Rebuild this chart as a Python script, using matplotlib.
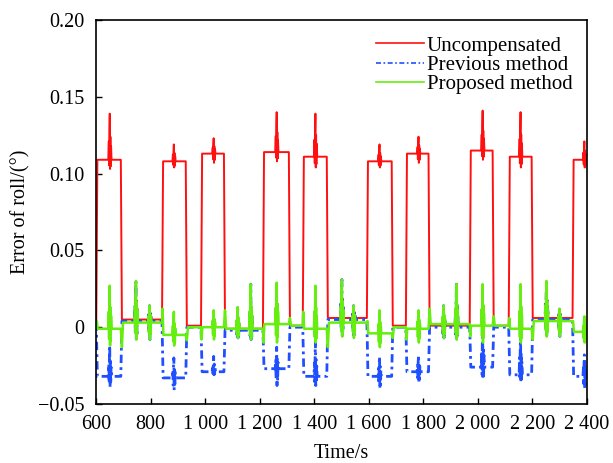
import numpy as np
import matplotlib
matplotlib.use('Agg')
import matplotlib.pyplot as plt

plt.rcParams['font.family'] = ['Liberation Serif', 'DejaVu Serif']
plt.rcParams['mathtext.fontset'] = 'stix'

# ---- data ----
# intervals where the uncompensated error is high
high_start = [601, 842, 985, 1212, 1358, 1593, 1736, 1970, 2113, 2347]
high_end = [695, 933, 1073, 1311, 1450, 1688, 1823, 2058, 2201, 2400]
red_high = [0.109, 0.108, 0.113, 0.114, 0.111, 0.108, 0.113, 0.115, 0.111, 0.109]
blue_high = [-0.032, -0.033, -0.029, -0.027, -0.032, -0.032, -0.029, -0.026, -0.031, -0.032]
green_high = [-0.001, -0.005, 0.000, 0.002, -0.001, -0.004, -0.001, 0.001, -0.001, -0.003]

# spikes inside the high intervals
spike_t = [651, 886, 1032, 1263, 1405, 1640, 1783, 2018, 2157, 2391]
red_spike_max = [0.139, 0.119, 0.123, 0.140, 0.139, 0.119, 0.124, 0.141, 0.140, 0.121]
red_spike_min = [0.103, 0.104, 0.107, 0.108, 0.104, 0.104, 0.107, 0.109, 0.104, 0.104]
blue_spike_max = [-0.012, -0.020, -0.019, -0.013, -0.010, -0.019, -0.018, 0.000, -0.003, -0.018]
blue_spike_min = [-0.039, -0.041, -0.031, -0.038, -0.038, -0.040, -0.036, -0.034, -0.036, -0.040]
green_spike_max = [0.027, 0.010, 0.011, 0.029, 0.027, 0.011, 0.011, 0.028, 0.028, 0.007]
green_spike_min = [-0.012, -0.012, -0.008, -0.010, -0.010, -0.013, -0.010, -0.010, -0.010, -0.010]

# levels in the low intervals (before the first high, then between highs)
red_start, blue_start, green_start = 0.004, 0.003, 0.003
red_low = [0.005, 0.001, -0.001, 0.001, 0.006, 0.001, 0.001, 0.001, 0.006]
blue_low = [0.004, 0.000, -0.002, 0.000, 0.005, 0.000, 0.000, 0.000, 0.005]
green_low = [0.003, 0.000, -0.001, 0.001, 0.003, 0.000, 0.002, 0.001, 0.004]

# green excursions at the edges of the high intervals
green_rise_ext = [0.004, 0.012, -0.008, -0.010, 0.010, 0.004, -0.008, -0.006, 0.006, 0.004]
green_fall_ext = [-0.013, -0.0085, 0.011, 0.006, -0.013, -0.007, 0.012, 0.007, -0.008, 0.0]

# bursts shared by all three curves in the low intervals
burst_t = [747, 797, 1120, 1168, 1502, 1545, 1875, 1922, 2252, 2300]
burst_max = [0.030, 0.014, 0.013, 0.028, 0.031, 0.014, 0.014, 0.028, 0.030, 0.012]
burst_min = [-0.008, -0.008, -0.007, -0.008, -0.006, -0.007, -0.007, -0.008, -0.006, -0.006]

xticks = [600, 800, 1000, 1200, 1400, 1600, 1800, 2000, 2200, 2400]
xticklabels = ['600', '800', '1 000', '1 200', '1 400', '1 600', '1 800', '2 000', '2 200', '2 400']
yticks = [-0.05, 0.0, 0.05, 0.10, 0.15, 0.20]
yticklabels = ['\u22120.05', '0', '0.05', '0.10', '0.15', '0.20']

# burst drawing shape (offsets in s, fraction towards max(+)/min(-))
_offs = [-6, -4, -3, -1.8, -0.6, 0.6, 1.8, 3, 4.2, 6]
_frac = [0, 0.4, -0.6, 0.6, 1.0, -1.0, 0.5, -0.7, 0.3, 0]


def burst(tc, hi, lo, base):
    pts = []
    for o, f in zip(_offs, _frac):
        v = base + f * (hi - base) if f >= 0 else base + (-f) * (lo - base)
        pts.append((tc + o, v))
    return pts


def build(start, high, smax, smin, low, rise_ext=None, fall_ext=None):
    pts = [(600, start)]
    prev_low = start
    for i in range(len(high_start)):
        hs, he = high_start[i], high_end[i]
        pts.append((hs, prev_low))
        if rise_ext is not None:
            pts.append((hs + 2, rise_ext[i]))
            pts.append((hs + 5, high[i]))
        else:
            pts.append((hs + 4, high[i]))
        pts += burst(spike_t[i], smax[i], smin[i], high[i])
        if i < len(low):
            pts.append((he - 4, high[i]))
            if fall_ext is not None:
                pts.append((he, fall_ext[i]))
                pts.append((he + 4, low[i]))
            else:
                pts.append((he, low[i]))
            nxt = high_start[i + 1]
            for bt, bh, bl in zip(burst_t, burst_max, burst_min):
                if he < bt < nxt:
                    pts += burst(bt, bh, bl, low[i])
            prev_low = low[i]
        else:
            pts.append((he, high[i]))
    pts.sort(key=lambda p: p[0])
    t = np.array([p[0] for p in pts])
    v = np.array([p[1] for p in pts])
    return t, v


tr, vr = build(red_start, red_high, red_spike_max, red_spike_min, red_low)
tb, vb = build(blue_start, blue_high, blue_spike_max, blue_spike_min, blue_low)
tg, vg = build(green_start, green_high, green_spike_max, green_spike_min, green_low,
               green_rise_ext, green_fall_ext)

fig = plt.figure(figsize=(6.13, 4.63), dpi=100)
ax = fig.add_axes([96 / 613, 59 / 463, 491 / 613, 384 / 463])

ax.plot(tr, vr, color='#ff1010', lw=1.4, label='Uncompensated')
ax.plot(tb, vb, color='#1f4fff', lw=2.0, dashes=(3, 1.5, 1, 1.5), label='Previous method')
ax.plot(tg, vg, color='#66ee11', lw=1.8, label='Proposed method')

ax.set_xlim(600, 2400)
ax.set_ylim(-0.05, 0.20)
ax.set_xticks(xticks)
ax.set_xticklabels(xticklabels)
ax.set_yticks(yticks)
ax.set_yticklabels(yticklabels)
ax.tick_params(direction='in', length=4, width=1, labelsize=14.5, top=False, right=False)
ax.tick_params(axis='y', pad=8.5)
ax.tick_params(axis='x', pad=8)
for s in ax.spines.values():
    s.set_linewidth(1.2)

ax.set_xlabel('Time/s', fontsize=14.5, labelpad=7)
ax.set_ylabel('Error of roll/(°)', fontsize=14.5, labelpad=5)

leg = ax.legend(loc='upper right', bbox_to_anchor=(0.97, 0.958), frameon=False, fontsize=15,
                handlelength=2.3, handletextpad=0.12, labelspacing=-0.02, borderaxespad=0,
                borderpad=0)
for h in leg.get_lines():
    h.set_linewidth(1.2)

fig.savefig('out.png', dpi=100)
